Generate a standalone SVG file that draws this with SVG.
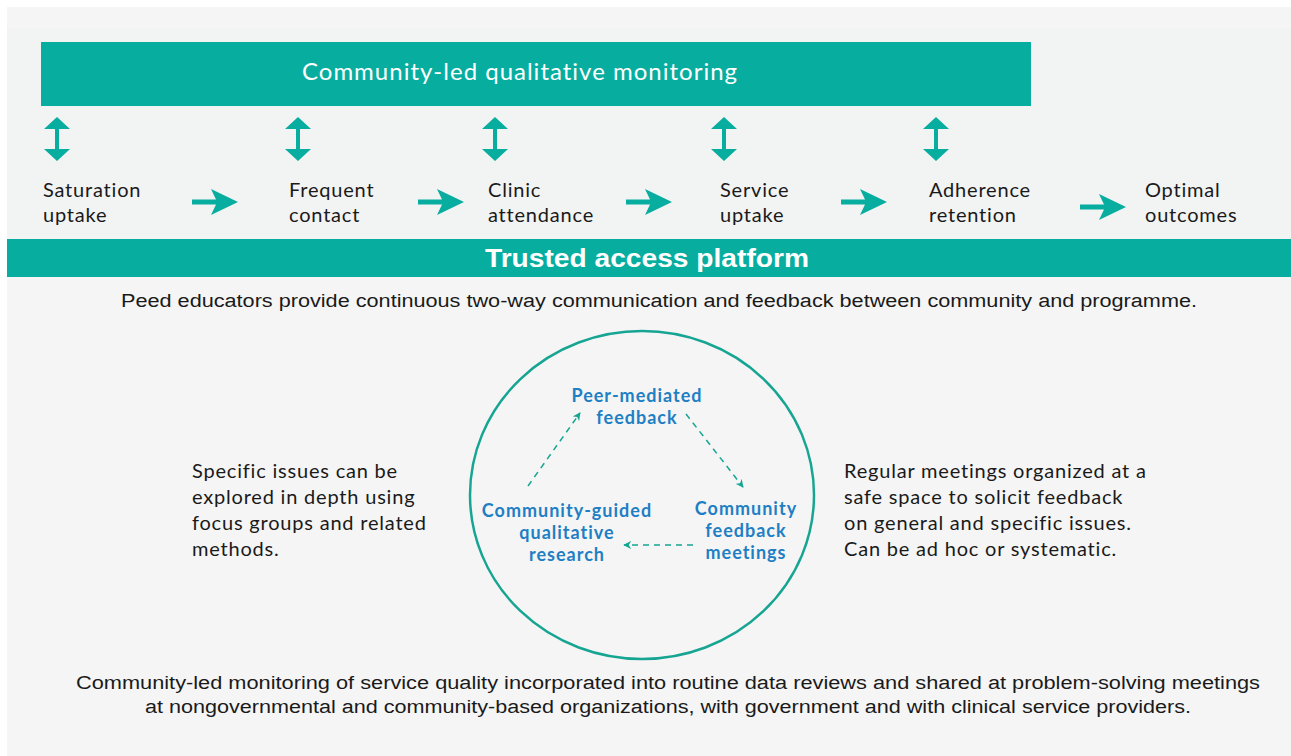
<svg xmlns="http://www.w3.org/2000/svg" xmlns:xlink="http://www.w3.org/1999/xlink" width="1291" height="756" viewBox="0 0 1291 756">
<style>
.body{font-family:Lato,"Liberation Sans",sans-serif;fill:#1a1a1a;font-size:20px;letter-spacing:0.8px}
.cond{font-family:"Liberation Sans",Lato,sans-serif;fill:#1a1a1a;font-size:18px}
.blue{font-family:Lato,"Liberation Sans",sans-serif;fill:#1f7fc4;font-size:18px;font-weight:bold;letter-spacing:1px;text-anchor:middle}
.white{fill:#ffffff}
.teal{fill:#07ae9f}
.dash{stroke:#16a592;stroke-width:1.5;stroke-dasharray:6 5;fill:none}
</style>
<defs>
<path id="vArrow" d="M0,-22 L13,-10 L2,-10 L2,10 L13,10 L0,22 L-13,10 L-2,10 L-2,-10 L-13,-10 Z" fill="#07ae9f"/>
<path id="hArrow" d="M-23,-2.5 L1,-2.5 L-4,-13 L23,0 L-4,13 L1,2.5 L-23,2.5 Z" fill="#07ae9f"/>
<marker id="tip" viewBox="0 0 10 10" refX="9" refY="5" markerWidth="8" markerHeight="8" orient="auto" markerUnits="userSpaceOnUse">
<path d="M0,0 L10,5 L0,10 L3,5 Z" fill="#16a592"/>
</marker>
</defs>
<rect x="0" y="0" width="1291" height="756" fill="#ffffff"/>
<rect x="7" y="7" width="1284" height="749" fill="#f5f5f5"/>
<rect x="7" y="28" width="1284" height="211" fill="#f2f3f3"/>

<g id="monitoring-banner">
<rect x="41" y="42" width="990" height="64" class="teal"/>
<text x="520" y="80" class="white" font-family="Lato,'Liberation Sans',sans-serif" font-size="24" letter-spacing="1" text-anchor="middle">Community-led qualitative monitoring</text>
</g>

<g id="stage-saturation"><text class="body" x="43" y="197">Saturation</text><text class="body" x="43" y="222">uptake</text></g>
<g id="stage-frequent"><text class="body" x="289" y="197">Frequent</text><text class="body" x="289" y="222">contact</text></g>
<g id="stage-clinic"><text class="body" x="488" y="197">Clinic</text><text class="body" x="488" y="222">attendance</text></g>
<g id="stage-service"><text class="body" x="720" y="197">Service</text><text class="body" x="720" y="222">uptake</text></g>
<g id="stage-adherence"><text class="body" x="929" y="197">Adherence</text><text class="body" x="929" y="222">retention</text></g>
<g id="stage-optimal"><text class="body" x="1145" y="197">Optimal</text><text class="body" x="1145" y="222">outcomes</text></g>

<g id="connectors">
<use xlink:href="#vArrow" x="57" y="139"/>
<use xlink:href="#vArrow" x="298" y="139"/>
<use xlink:href="#vArrow" x="495" y="139"/>
<use xlink:href="#vArrow" x="724" y="139"/>
<use xlink:href="#vArrow" x="936" y="139"/>
<use xlink:href="#hArrow" x="215" y="202"/>
<use xlink:href="#hArrow" x="441" y="202"/>
<use xlink:href="#hArrow" x="649" y="202"/>
<use xlink:href="#hArrow" x="864" y="202"/>
<use xlink:href="#hArrow" x="1103" y="207"/>
<line class="dash" x1="528" y1="486" x2="580" y2="413" marker-end="url(#tip)"/>
<line class="dash" x1="686" y1="414" x2="743" y2="487" marker-end="url(#tip)"/>
<line class="dash" x1="693" y1="545" x2="624" y2="545" marker-end="url(#tip)"/>
</g>

<g id="platform-bar">
<rect x="7" y="239" width="1284" height="38" class="teal"/>
<text x="647" y="267" class="white" font-family="'Liberation Sans',Lato,sans-serif" font-size="26" font-weight="bold" text-anchor="middle" textLength="324" lengthAdjust="spacingAndGlyphs">Trusted access platform</text>
</g>

<g id="platform-note">
<text class="cond" x="121" y="307" textLength="1076" lengthAdjust="spacingAndGlyphs">Peed educators provide continuous two-way communication and feedback between community and programme.</text>
</g>

<g id="cycle-circle">
<ellipse cx="642" cy="495" rx="172" ry="164" fill="none" stroke="#16a592" stroke-width="2.5"/>
</g>
<g id="node-peer"><text class="blue" x="637" y="402">Peer-mediated</text><text class="blue" x="637" y="424">feedback</text></g>
<g id="node-meetings"><text class="blue" x="746" y="515">Community</text><text class="blue" x="746" y="537">feedback</text><text class="blue" x="746" y="559">meetings</text></g>
<g id="node-research"><text class="blue" x="567" y="517">Community-guided</text><text class="blue" x="567" y="539">qualitative</text><text class="blue" x="567" y="561">research</text></g>

<g id="left-note">
<text class="body" x="192" y="478">Specific issues can be</text>
<text class="body" x="192" y="504">explored in depth using</text>
<text class="body" x="192" y="530">focus groups and related</text>
<text class="body" x="192" y="556">methods.</text>
</g>
<g id="right-note">
<text class="body" x="844" y="478">Regular meetings organized at a</text>
<text class="body" x="844" y="504">safe space to solicit feedback</text>
<text class="body" x="844" y="530">on general and specific issues.</text>
<text class="body" x="844" y="556">Can be ad hoc or systematic.</text>
</g>

<g id="bottom-note">
<text class="cond" x="76" y="689" textLength="1184" lengthAdjust="spacingAndGlyphs">Community-led monitoring of service quality incorporated into routine data reviews and shared at problem-solving meetings</text>
<text class="cond" x="145" y="713" textLength="1046" lengthAdjust="spacingAndGlyphs">at nongovernmental and community-based organizations, with government and with clinical service providers.</text>
</g>
</svg>
